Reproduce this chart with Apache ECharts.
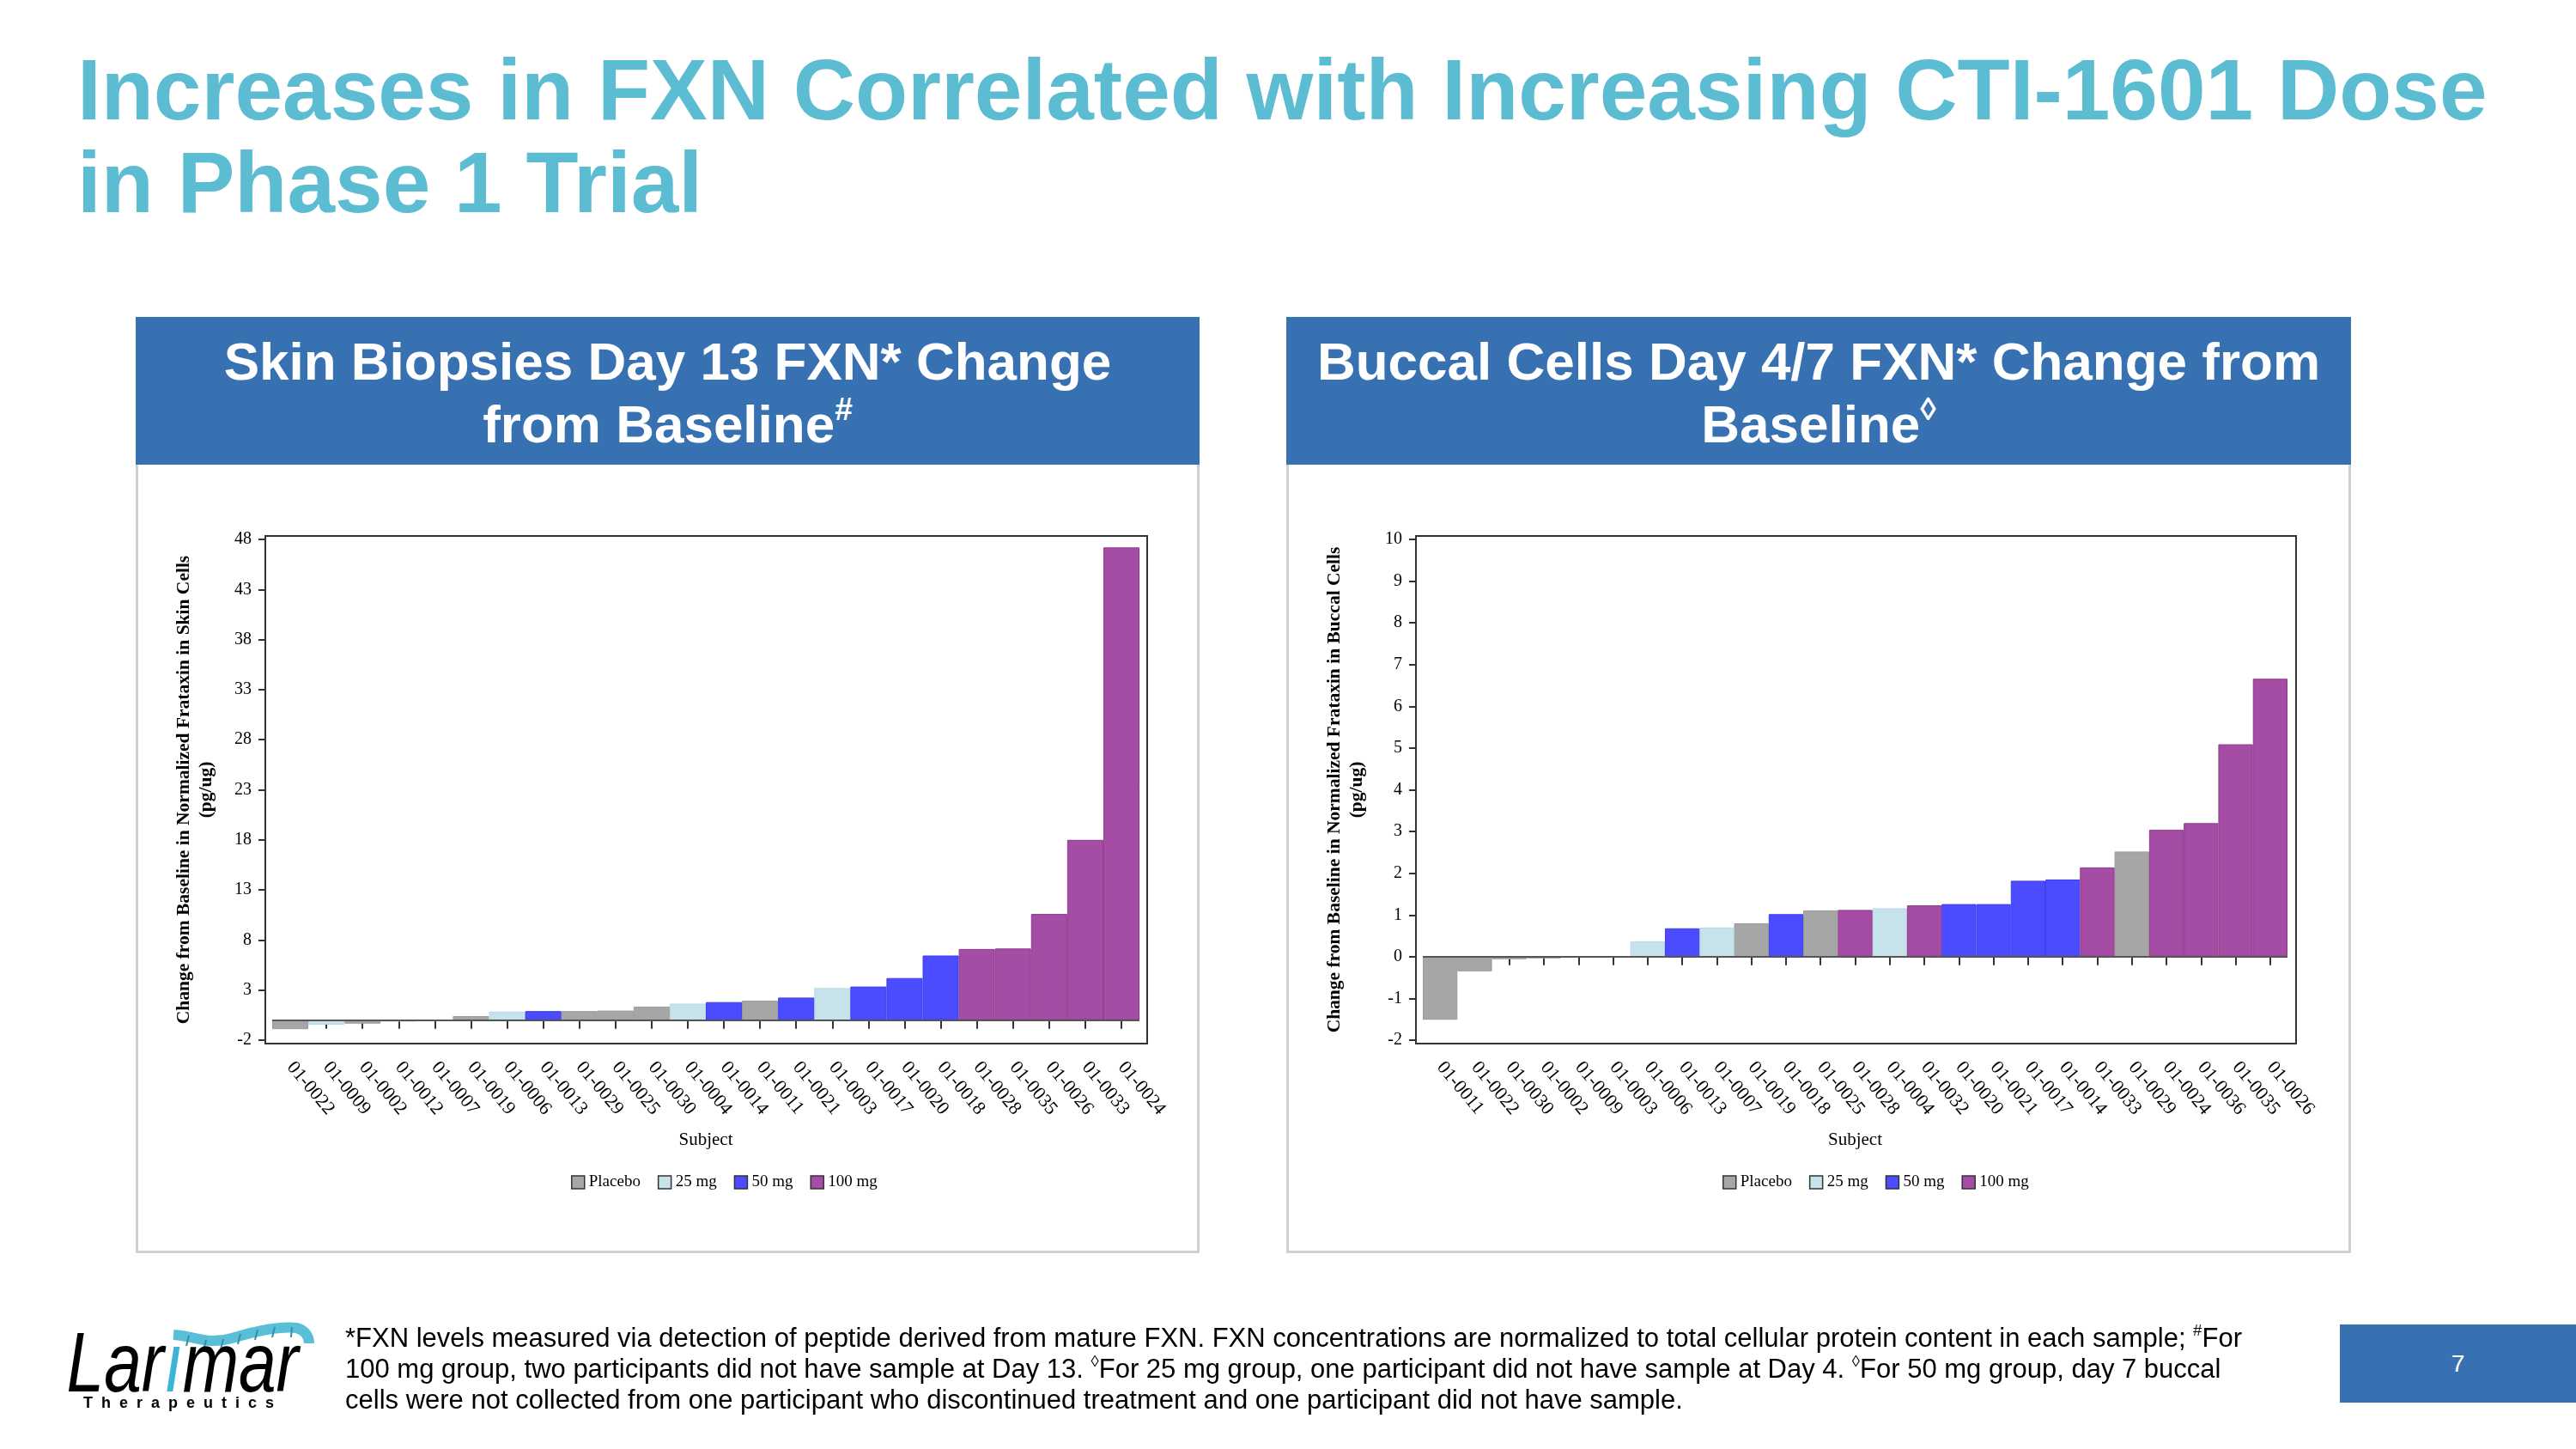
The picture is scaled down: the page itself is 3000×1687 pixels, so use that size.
<!DOCTYPE html>
<html>
<head>
<meta charset="utf-8">
<title>Increases in FXN Correlated with Increasing CTI-1601 Dose in Phase 1 Trial</title>
<script src="https://cdn.jsdelivr.net/npm/echarts@6/dist/echarts.min.js"></script>
<style>
  html, body { margin: 0; padding: 0; background: #fff; }
  #page { position: relative; width: 3000px; height: 1687px; overflow: hidden; font-family: 'Liberation Sans', Arial, sans-serif; }
  .title { position: absolute; left: 90px; top: 50px; font-size: 100px; line-height: 108px; font-weight: bold; color: #5cbcd2; white-space: nowrap; }
  .head { position: absolute; top: 369px; height: 174px; background: #3771b2; color: #fff; font-weight: bold; font-size: 62px; line-height: 73px; text-align: center; box-sizing: border-box; padding-top: 15px; white-space: nowrap; }
  .panel { position: absolute; top: 541px; height: 918px; border: 3px solid #cfcfcf; border-top: none; box-sizing: border-box; background: #fff; }
  .sup { font-size: 60%; position: relative; top: -0.7em; line-height: 0; }
  #chart { position: absolute; left: 0; top: 0; width: 3000px; height: 1687px; }
  .note { position: absolute; left: 402px; top: 1540px; font-size: 31px; line-height: 36px; white-space: nowrap; color: #000; }
  .pageno { position: absolute; left: 2725px; top: 1542px; width: 275px; height: 91px; background: #3771b2; color: #fff; font-size: 28px; line-height: 91px; text-align: center; }
  .logo { position: absolute; left: 60px; top: 1530px; }
</style>
</head>
<body>
<div id="page">
  <div class="title">Increases in FXN Correlated with Increasing CTI-1601 Dose<br>in Phase 1 Trial</div>

  <div class="head" style="left:158px;width:1239px">Skin Biopsies Day 13 FXN* Change<br>from Baseline<span class="sup">#</span></div>
  <div class="panel" style="left:158px;width:1239px"></div>
  <div class="head" style="left:1498px;width:1240px">Buccal Cells Day 4/7 FXN* Change from<br>Baseline<span class="sup">&#9674;</span></div>
  <div class="panel" style="left:1498px;width:1240px"></div>

  <div id="chart"></div>

  <svg class="logo" width="320" height="130" viewBox="0 0 320 130">
    <!-- ribbon over the i -->
    <path d="M142 24 C170 26 180 36 210 28 C235 20 265 14 285 16 C295 18 300 26 300 34" fill="none" stroke="#58bfd6" stroke-width="12"/>
    <path d="M160 25 l-3 12 M180 30 l-3 12 M200 29 l-3 12 M220 23 l-3 12 M240 18 l-3 12 M260 15 l-3 12 M280 15 l-1 12" stroke="#2f8fa8" stroke-width="2"/>
    <text x="22" y="90" font-family="Liberation Sans" font-style="italic" font-size="98" transform="scale(0.8,1)" fill="#000">Lar<tspan fill="#3cb4d8">&#305;</tspan>mar</text>
    <text x="37" y="109" font-family="Liberation Sans" font-weight="bold" font-size="18" letter-spacing="10" fill="#000">Therapeutics</text>
  </svg>

  <div class="note">*FXN levels measured via detection of peptide derived from mature FXN. FXN concentrations are normalized to total cellular protein content in each sample; <span class="sup">#</span>For<br>100 mg group, two participants did not have sample at Day 13. <span class="sup">&#9674;</span>For 25 mg group, one participant did not have sample at Day 4. <span class="sup">&#9674;</span>For 50 mg group, day 7 buccal<br>cells were not collected from one participant who discontinued treatment and one participant did not have sample.</div>

  <div class="pageno">7</div>
</div>

<script>
// skin biopsies, day 13
const skinSubjects = ['01-0022', '01-0009', '01-0002', '01-0012', '01-0007', '01-0019', '01-0006', '01-0013', '01-0029', '01-0025', '01-0030', '01-0004',
  '01-0014', '01-0011', '01-0021', '01-0003', '01-0017', '01-0020', '01-0018', '01-0028', '01-0035', '01-0026', '01-0033', '01-0024']
const skinValues = [-0.9, -0.45, -0.35, -0.15, -0.1, 0.4, 0.85, 0.9, 0.9, 0.95, 1.35, 1.65,
  1.8, 1.95, 2.25, 3.2, 3.35, 4.2, 6.45, 7.1, 7.15, 10.6, 18.0, 47.2]
const skinGroups = ['Placebo', '25 mg', 'Placebo', '25 mg', '25 mg', 'Placebo', '25 mg', '50 mg', 'Placebo', 'Placebo', 'Placebo', '25 mg',
  '50 mg', 'Placebo', '50 mg', '25 mg', '50 mg', '50 mg', '50 mg', '100 mg', '100 mg', '100 mg', '100 mg', '100 mg']
const skinTicks = [-2, 3, 8, 13, 18, 23, 28, 33, 38, 43, 48]

// buccal cells, day 4/7
const buccalSubjects = ['01-0011', '01-0022', '01-0030', '01-0002', '01-0009', '01-0003', '01-0006', '01-0013', '01-0007', '01-0019', '01-0018', '01-0025', '01-0028',
  '01-0004', '01-0032', '01-0020', '01-0021', '01-0017', '01-0014', '01-0033', '01-0029', '01-0024', '01-0036', '01-0035', '01-0026']
const buccalValues = [-1.51, -0.35, -0.06, -0.04, 0.0, 0.01, 0.37, 0.68, 0.7, 0.8, 1.02, 1.11, 1.12,
  1.16, 1.23, 1.26, 1.26, 1.82, 1.85, 2.14, 2.52, 3.04, 3.2, 5.09, 6.66]
const buccalGroups = ['Placebo', 'Placebo', 'Placebo', 'Placebo', '25 mg', '25 mg', '25 mg', '50 mg', '25 mg', 'Placebo', '50 mg', 'Placebo', '100 mg',
  '25 mg', '100 mg', '50 mg', '50 mg', '50 mg', '50 mg', '100 mg', 'Placebo', '100 mg', '100 mg', '100 mg', '100 mg']
const buccalTicks = [-2, -1, 0, 1, 2, 3, 4, 5, 6, 7, 8, 9, 10]

const groupNames = ['Placebo', '25 mg', '50 mg', '100 mg']
const groupColors = ['#a6a6a6', '#c6e3ec', '#4b4bff', '#a54ca4']
const groupBorders = ['#9a9a9a', '#b8d8e2', '#3e3eea', '#8e3b8d']

const serif = 'Liberation Serif'

function barSeries (values, groups, idx, stack) {
  return groupNames.map((name, g) => {
    let s = {
      name: name,
      type: 'bar',
      stack: stack,
      xAxisIndex: idx,
      yAxisIndex: idx,
      barCategoryGap: '0%',
      itemStyle: { color: groupColors[g], borderColor: groupBorders[g], borderWidth: 1 },
      emphasis: { disabled: true },
      data: values.map((v, i) => groups[i] === name ? v : '-')
    }
    if (g === 0) {
      // zero reference line
      s.markLine = {
        silent: true,
        symbol: 'none',
        label: { show: false },
        lineStyle: { color: '#555', width: 2, type: 'solid' },
        data: [{ yAxis: 0 }]
      }
    }
    return s
  })
}

function xAxisFor (idx, subjects) {
  return {
    type: 'category',
    gridIndex: idx,
    data: subjects,
    position: 'bottom',
    offset: 4,
    axisLine: { show: false },
    axisTick: { show: true, alignWithLabel: true, interval: 0, length: 10, lineStyle: { color: '#333', width: 2 } },
    axisLabel: { rotate: -50, interval: 0, margin: 24, fontFamily: serif, fontSize: 22, color: '#000' },
    name: 'Subject',
    nameLocation: 'middle',
    nameGap: 102,
    nameTextStyle: { fontFamily: serif, fontSize: 21, color: '#000' }
  }
}

function yAxisFor (idx, ticks, name) {
  return {
    type: 'value',
    gridIndex: idx,
    min: ticks[0],
    max: ticks[ticks.length - 1],
    interval: ticks[1] - ticks[0],
    offset: 8,
    axisLine: { show: false },
    axisTick: { show: true, length: 8, lineStyle: { color: '#333', width: 2 } },
    axisLabel: { margin: 16, fontFamily: serif, fontSize: 20, color: '#000' },
    splitLine: { show: false },
    name: name,
    nameLocation: 'middle',
    nameRotate: 90,
    nameGap: 56,
    nameTextStyle: { fontFamily: serif, fontWeight: 'bold', fontSize: 21.5, lineHeight: 26, color: '#000' }
  }
}

function legendAt (left) {
  return {
    data: groupNames,
    left: left,
    top: 1362,
    icon: 'rect',
    itemWidth: 15,
    itemHeight: 15,
    itemGap: 20,
    itemStyle: { borderColor: '#333', borderWidth: 1.5 },
    textStyle: { fontFamily: serif, fontSize: 19, color: '#000' },
    selectedMode: false
  }
}

function frame (x, w) {
  return {
    type: 'rect',
    shape: { x: x, y: 624, width: w, height: 591 },
    style: { fill: 'none', stroke: '#333', lineWidth: 2 },
    silent: true,
    z: 10
  }
}

const option = {
  animation: false,
  grid: [
    { left: 317, top: 628, width: 1010, height: 583 },
    { left: 1657, top: 628, width: 1007, height: 583 }
  ],
  xAxis: [xAxisFor(0, skinSubjects), xAxisFor(1, buccalSubjects)],
  yAxis: [
    yAxisFor(0, skinTicks, 'Change from Baseline in Normalized Frataxin in Skin Cells\n(pg/ug)'),
    yAxisFor(1, buccalTicks, 'Change from Baseline in Normalized Frataxin in Buccal Cells\n(pg/ug)')
  ],
  legend: [legendAt(660), legendAt(2001)],
  graphic: [frame(309, 1027), frame(1649, 1025)],
  series: barSeries(skinValues, skinGroups, 0, 'skin').concat(barSeries(buccalValues, buccalGroups, 1, 'buccal'))
}

let myChart = echarts.init(document.getElementById('chart'))
myChart.setOption(option)
</script>
</body>
</html>
